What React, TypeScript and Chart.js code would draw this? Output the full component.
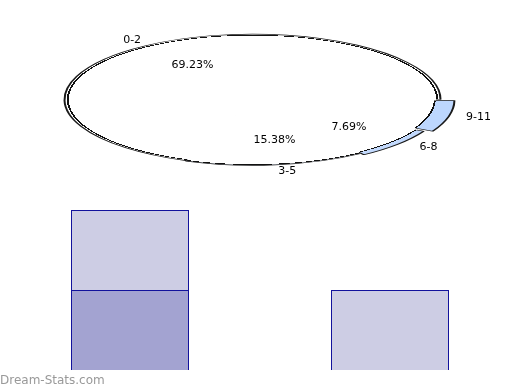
import React, { useEffect, useRef } from "react";
import { Chart, registerables } from "chart.js";

Chart.register(...registerables);

// ---- data ----
const ageGroups = ["0-2", "3-5", "6-8", "9-11"];
const shares = [69.23, 15.38, 7.69, 7.69];
const sliceOffsets = [0, 5, 16, 37];
const rimColors = ["#ffffff", "#eef4ff", "#c2d9fd", "#bdd7fe"];
const showPercent = [true, true, true, false];

const barCategories = ["A", "B"];
const darkSeries: (number | null)[] = [1, null];
const lightSeries: (number | null)[] = [1, 1];

// ---- layout constants ----
const RADIUS = 188;
const Y_SQUASH = 0.348;
const SCREEN_CX = 252.5;
const SCREEN_CY = 99.5;
const LABEL_CX = 260;
const ROTATION = 90; // start at 3 o'clock
const GR = 260;
const LINE_W = 1.9;

// pie slices go clockwise from 3 o'clock: 9-11, 6-8, 3-5, 0-2
const pieLabels = [...ageGroups].reverse();
const pieValues = [...shares].reverse();
const pieOffsets = [...sliceOffsets].reverse();
const pieRims = [...rimColors].reverse();
const piePercent = [...showPercent].reverse();
const pieLineR = pieOffsets.map((o) => (o === 0 ? RADIUS - 4.2 : RADIUS - LINE_W));

function pieGeometry(c: any) {
  const chart = c.chart;
  const area = chart.chartArea;
  if (!area) return null;
  const data = c.dataset.data as number[];
  const total = data.reduce((a, b) => a + b, 0);
  let before = 0;
  for (let j = 0; j < c.dataIndex; j++) before += data[j];
  const start = ((ROTATION - 90) * Math.PI) / 180 + (before / total) * 2 * Math.PI;
  const circ = (data[c.dataIndex] / total) * 2 * Math.PI;
  const mid = start + circ / 2;
  const off = pieOffsets[c.dataIndex] || 0;
  const fix = 1 - Math.sin(Math.min(Math.PI, circ));
  const t = (off / 4) * (1 + fix);
  return {
    cx: (area.left + area.right) / 2 - Math.cos(mid) * t,
    cy: (area.top + area.bottom) / 2 - Math.sin(mid) * t,
  };
}

function sliceFill(c: any) {
  const g = pieGeometry(c);
  if (!g) return "#ffffff";
  const i = c.dataIndex;
  const line = pieLineR[i];
  const rg = c.chart.ctx.createRadialGradient(g.cx, g.cy, 0, g.cx, g.cy, GR);
  rg.addColorStop(0, "#ffffff");
  rg.addColorStop(line / GR, "#ffffff");
  rg.addColorStop(line / GR, "#111111");
  rg.addColorStop((line + LINE_W) / GR, "#111111");
  rg.addColorStop((line + LINE_W) / GR, pieRims[i]);
  rg.addColorStop(1, pieRims[i]);
  return rg;
}

function sliceStroke(c: any) {
  const g = pieGeometry(c);
  if (!g) return "rgba(0,0,0,0)";
  const i = c.dataIndex;
  const line = pieLineR[i] + LINE_W;
  const rg = c.chart.ctx.createRadialGradient(g.cx, g.cy, 0, g.cx, g.cy, GR);
  rg.addColorStop(0, "rgba(0,0,0,0)");
  rg.addColorStop(line / GR, "rgba(0,0,0,0)");
  rg.addColorStop(line / GR, "#1a1a1a");
  rg.addColorStop(1, "#1a1a1a");
  return rg;
}

const squashPlugin = {
  id: "squash",
  beforeDatasetsDraw(chart: any) {
    const a = chart.chartArea;
    const ctx = chart.ctx;
    ctx.save();
    ctx.translate(SCREEN_CX, SCREEN_CY);
    ctx.scale(1, Y_SQUASH);
    ctx.translate(-(a.left + a.right) / 2, -(a.top + a.bottom) / 2);
  },
  afterDatasetsDraw(chart: any) {
    chart.ctx.restore();
  },
};

const labelPlugin = {
  id: "pieLabels",
  afterDraw(chart: any) {
    const ctx = chart.ctx;
    const meta = chart.getDatasetMeta(0);
    ctx.save();
    ctx.font = "11px 'DejaVu Sans'";
    ctx.fillStyle = "#000000";
    ctx.textAlign = "center";
    ctx.textBaseline = "middle";
    meta.data.forEach((arc: any, i: number) => {
      const mid = (arc.startAngle + arc.endAngle) / 2;
      const cs = Math.cos(mid);
      const sn = Math.sin(mid);
      const ox = LABEL_CX + cs * RADIUS * 1.197;
      const oy = SCREEN_CY + sn * RADIUS * Y_SQUASH * 1.1;
      ctx.fillText(pieLabels[i], ox, oy);
      if (piePercent[i]) {
        const px = LABEL_CX + cs * RADIUS * 0.633;
        const py = SCREEN_CY + sn * RADIUS * Y_SQUASH * 0.633;
        ctx.fillText(pieValues[i].toFixed(2) + "%", px, py);
      }
    });
    ctx.restore();
  },
};

export default function App() {
  const pieRef = useRef<HTMLCanvasElement>(null);
  const barRef = useRef<HTMLCanvasElement>(null);

  useEffect(() => {
    const bar = new Chart(barRef.current!, {
      type: "bar",
      data: {
        labels: barCategories,
        datasets: [
          {
            data: darkSeries,
            backgroundColor: "#a3a3d1",
            borderColor: "#12129c",
            borderWidth: 1,
            stack: "s",
          },
          {
            data: lightSeries,
            backgroundColor: "#cdcde4",
            borderColor: "#12129c",
            borderWidth: 1,
            stack: "s",
          },
        ],
      },
      options: {
        animation: false,
        responsive: false,
        devicePixelRatio: 1,
        events: [],
        layout: { padding: 0 },
        plugins: { legend: { display: false }, tooltip: { enabled: false } },
        datasets: { bar: { barPercentage: 118 / 260, categoryPercentage: 1 } },
        scales: {
          x: { display: false, stacked: true },
          y: { display: false, stacked: true, min: 0, max: 2.25 },
        },
      } as any,
    });

    const pie = new Chart(pieRef.current!, {
      type: "pie",
      data: {
        labels: pieLabels,
        datasets: [
          {
            data: pieValues,
            backgroundColor: sliceFill as any,
            borderColor: sliceStroke as any,
            borderWidth: 2,
            offset: pieOffsets,
            clip: false as any,
          },
        ],
      },
      options: {
        animation: false,
        responsive: false,
        devicePixelRatio: 1,
        events: [],
        rotation: ROTATION,
        radius: RADIUS,
        layout: { padding: 0 },
        plugins: { legend: { display: false }, tooltip: { enabled: false } },
      } as any,
      plugins: [squashPlugin, labelPlugin],
    });

    return () => {
      pie.destroy();
      bar.destroy();
    };
  }, []);

  return (
    <div
      style={{
        position: "fixed",
        left: 0,
        top: 0,
        width: 520,
        height: 390,
        background: "#ffffff",
        overflow: "hidden",
      }}
    >
      <canvas
        ref={barRef}
        width={520}
        height={180}
        style={{ position: "absolute", left: 0, top: 190, width: 520, height: 180 }}
      />
      <canvas
        ref={pieRef}
        width={520}
        height={390}
        style={{ position: "absolute", left: 0, top: 0, width: 520, height: 390 }}
      />
      <div
        style={{
          position: "absolute",
          left: 0,
          top: 374,
          font: "12px 'DejaVu Sans'",
          lineHeight: "12px",
          color: "#999999",
          whiteSpace: "nowrap",
        }}
      >
        Dream-Stats.com
      </div>
    </div>
  );
}
